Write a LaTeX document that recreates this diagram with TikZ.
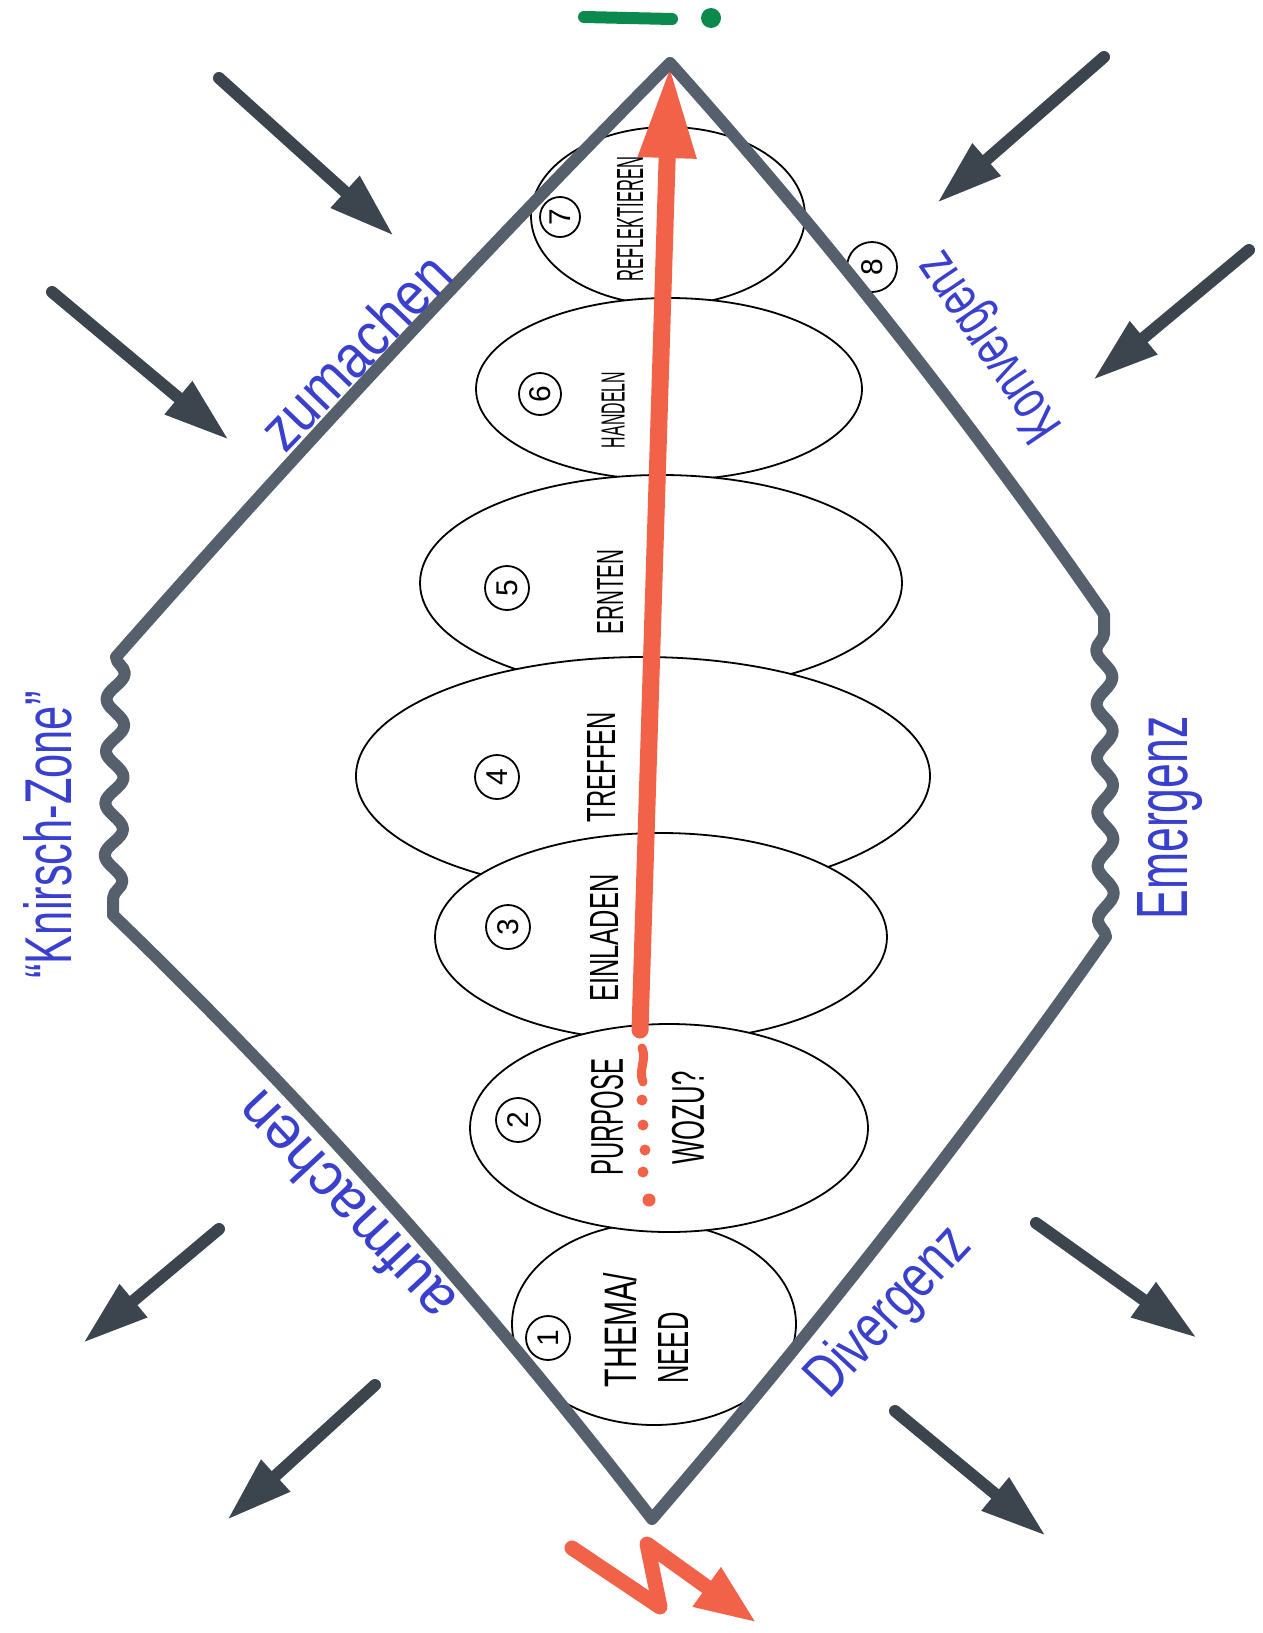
\documentclass[tikz,border=0pt]{standalone}
\usepackage{fontspec}
\setmainfont{Liberation Sans}
\usetikzlibrary{arrows.meta,shapes.geometric,decorations.pathmorphing}
\definecolor{markergrey}{RGB}{86,96,108}
\definecolor{arrowgrey}{RGB}{60,68,78}
\definecolor{penblue}{RGB}{58,64,206}
\definecolor{redmarker}{RGB}{242,98,72}
\definecolor{greenmarker}{RGB}{12,138,78}
\tikzset{
  greymarker/.style={draw=markergrey, line width=12pt, line join=round, line cap=round},
  bigarrow/.style={draw=arrowgrey, line width=12pt, line cap=round, -{Triangle[length=66pt,width=40pt]}},
  blob/.style={ellipse, draw=black, line width=1.8pt, fill=white, inner sep=0pt},
  numcircle/.style={circle, draw=black, line width=1.8pt, minimum size=44pt, inner sep=0pt, rotate=90, font=\fontsize{30}{30}\selectfont},
  steplabel/.style={rotate=90, inner sep=0pt, text=black},
  penlabel/.style={text=penblue, inner sep=0pt},
  wave/.style={decoration={snake, amplitude=9pt, segment length=52pt}}
}
\begin{document}
\begin{tikzpicture}[x=1pt,y=-1pt]
\useasboundingbox (0,0) rectangle (1263,1633);

% the seven steps, back to front
\node[blob, minimum width=274pt, minimum height=178pt] (e7) at (668,216) {};
\node[blob, minimum width=386pt, minimum height=182pt] (e6) at (669,389) {};
\node[blob, minimum width=482pt, minimum height=216pt] (e5) at (661,583) {};
\node[blob, minimum width=574pt, minimum height=238pt] (e4) at (643,776) {};
\node[blob, minimum width=452pt, minimum height=208pt] (e3) at (661,937) {};
\node[blob, minimum width=284pt, minimum height=202pt] (e1) at (654,1324) {};
\node[blob, minimum width=398pt, minimum height=208pt] (e2) at (669,1128) {};

% numbers
\node[numcircle] (n1) at (548,1338) {1};
\node[numcircle] (n2) at (518,1120) {2};
\node[numcircle] (n3) at (508,927) {3};
\node[numcircle] (n4) at (497,777) {4};
\node[numcircle] (n5) at (507,588) {5};
\node[numcircle, minimum size=42pt] (n6) at (540,394) {6};
\node[numcircle, minimum size=40pt] (n7) at (560,217) {7};
\node[numcircle, minimum size=50pt] (n8) at (872,267) {8};

% step labels
\node[steplabel] (t1a) at (620,1330) {\resizebox{114pt}{33pt}{THEMA/}};
\node[steplabel] (t1b) at (673,1348) {\resizebox{71pt}{30pt}{NEED}};
\node[steplabel] (t2a) at (607,1117) {\resizebox{117pt}{32pt}{PURPOSE}};
\node[steplabel] (t2b) at (688,1118) {\resizebox{93pt}{32pt}{WOZU?}};
\node[steplabel] (t3) at (604,938) {\resizebox{127pt}{28pt}{EINLADEN}};
\node[steplabel] (t4) at (601,767) {\resizebox{110pt}{28pt}{TREFFEN}};
\node[steplabel] (t5) at (610,592) {\resizebox{85pt}{26pt}{ERNTEN}};
\node[steplabel] (t6) at (613,410) {\resizebox{76pt}{23pt}{HANDELN}};
\node[steplabel] (t7) at (630,219) {\resizebox{125pt}{26pt}{REFLEKTIEREN}};

% red path through the steps
\coordinate (rs) at (640,1030);
\coordinate (rt) at (670,66);
\draw[redmarker, line width=17pt, line cap=round, -{Triangle[length=92pt,width=54pt]}] (rs) -- (rt);
\draw[redmarker, line width=9pt, line cap=round] (642,1048) .. controls (647,1060) and (638,1070) .. (643,1082);
\fill[redmarker] (642,1100) circle (5.5pt);
\fill[redmarker] (643,1125) circle (5.5pt);
\fill[redmarker] (645,1150) circle (5.5pt);
\fill[redmarker] (643,1172) circle (5.5pt);
\fill[redmarker] (649,1200) circle (6.5pt);

% outline: opening and closing
\coordinate (A) at (670,63);
\coordinate (L1) at (116,657);
\coordinate (L2) at (113,915);
\coordinate (B) at (652,1519);
\coordinate (R2) at (1106,937);
\coordinate (R1) at (1104,614);
\draw[greymarker]
  (A) .. controls (479,256) and (295,454) .. (L1)
  decorate[wave] {-- (L2)}
  .. controls (308,1103) and (487,1305) .. (B)
  .. controls (813,1332) and (965,1138) .. (R2)
  decorate[wave, decoration={segment length=54pt, amplitude=8pt}] {-- (R1)}
  .. controls (971,422) and (827,238) .. (A);

% exclamation mark
\coordinate (g0) at (584,17);
\coordinate (g1) at (672,19);
\draw[greenmarker, line width=12pt, line cap=round] (g0) -- (g1);
\fill[greenmarker] (711,18) circle (10pt);

% lightning
\coordinate (l0) at (572,1548);
\coordinate (l1) at (660,1607);
\coordinate (l2) at (647,1544);
\coordinate (l3) at (757,1623);
\draw[redmarker, line width=15pt, line join=round, line cap=round, -{Triangle[length=62pt,width=44pt]}] (l0) -- (l1) -- (l2) -- (l3);

% forces
\coordinate (a1s) at (219,78);   \coordinate (a1e) at (394,236);
\coordinate (a2s) at (52,292);   \coordinate (a2e) at (229,440);
\coordinate (a3s) at (1104,57);  \coordinate (a3e) at (937,203);
\coordinate (a4s) at (1249,250); \coordinate (a4e) at (1093,380);
\coordinate (a5s) at (219,1229); \coordinate (a5e) at (83,1343);
\coordinate (a6s) at (375,1385); \coordinate (a6e) at (227,1520);
\coordinate (a7s) at (1036,1223);\coordinate (a7e) at (1197,1338);
\coordinate (a8s) at (895,1411); \coordinate (a8e) at (1046,1536);
\foreach \i in {1,...,8} \draw[bigarrow] (a\i s) -- (a\i e);

% handwritten side labels
\node[penlabel, rotate=46] (zu) at (355,351) {\resizebox{245pt}{44pt}{zumachen}};
\node[penlabel, rotate=124] (kon) at (992,345) {\resizebox{215pt}{40pt}{Konvergenz}};
\node[penlabel, rotate=90] (kz) at (48,835) {\resizebox{287pt}{48pt}{“Knirsch-Zone”}};
\node[penlabel, rotate=90] (em) at (1170,818) {\resizebox{203pt}{50pt}{Emergenz}};
\node[penlabel, rotate=133] (auf) at (345,1207) {\resizebox{290pt}{44pt}{aufmachen}};
\node[penlabel, rotate=47] (div) at (890,1313) {\resizebox{210pt}{44pt}{Divergenz}};
\end{tikzpicture}
\end{document}
